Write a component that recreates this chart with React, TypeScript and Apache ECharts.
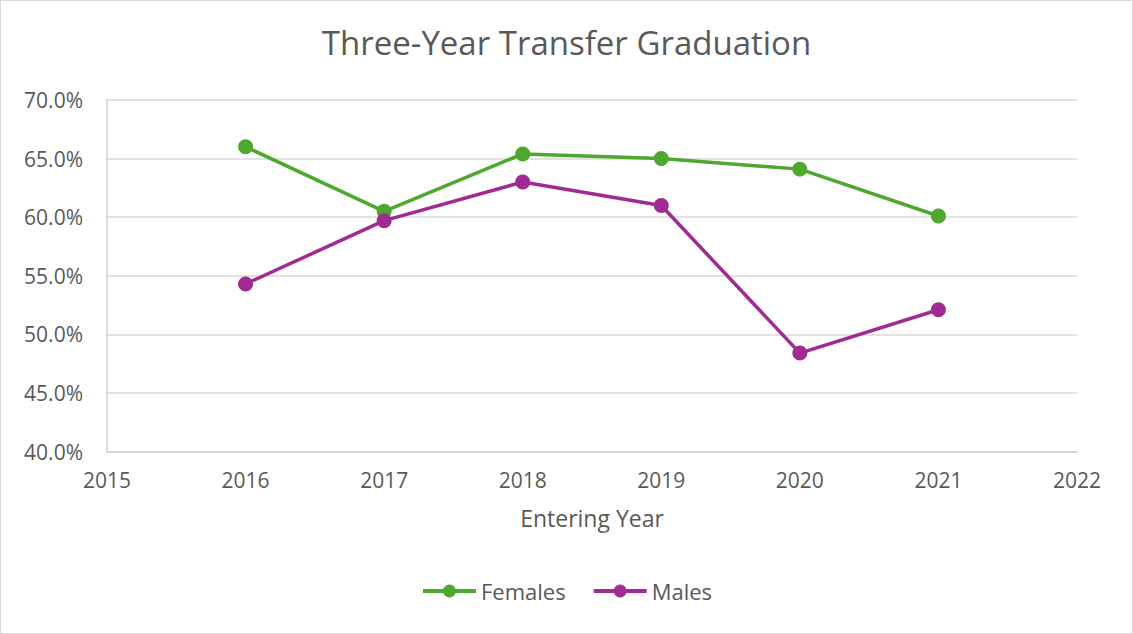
import React, { useEffect, useRef } from "react";
import * as echarts from "echarts";

const years = [2016, 2017, 2018, 2019, 2020, 2021];
const females = [66.0, 60.5, 65.4, 65.0, 64.1, 60.1];
const males = [54.3, 59.7, 63.0, 61.0, 48.4, 52.1];
const seriesNames = ["Females", "Males"];
const titleText = "Three-Year Transfer Graduation";
const xAxisName = "Entering Year";

const FONT = "'Open Sans', 'Liberation Sans', sans-serif";
const TEXT = "#595959";

export default function App() {
  const ref = useRef<HTMLDivElement>(null);
  useEffect(() => {
    if (!ref.current) return;
    const chart = echarts.init(ref.current, undefined, { renderer: "svg" });
    chart.setOption({
      animation: false,
      backgroundColor: "#ffffff",
      textStyle: { fontFamily: FONT, color: TEXT },
      title: {
        text: titleText,
        left: "center",
        top: 20,
        textStyle: { fontFamily: FONT, fontSize: 33, fontWeight: "normal", color: TEXT },
      },
      legend: {
        bottom: 26,
        left: "center",
        itemWidth: 53,
        itemHeight: 16,
        itemGap: 26,
        lineStyle: { width: 4 },
        textStyle: { fontFamily: FONT, fontSize: 22, color: TEXT },
        data: seriesNames,
      },
      grid: { left: 106, right: 55, top: 99, bottom: 181.5, containLabel: false },
      xAxis: {
        type: "value",
        min: 2015,
        max: 2022,
        interval: 1,
        name: xAxisName,
        nameLocation: "middle",
        nameGap: 55,
        nameTextStyle: { fontFamily: FONT, fontSize: 23, color: TEXT },
        axisLine: { show: true, lineStyle: { color: "#D0D0D0", width: 1.5 } },
        axisTick: { show: false },
        splitLine: { show: false },
        axisLabel: { margin: 18, fontSize: 21, color: TEXT, fontFamily: FONT, formatter: (v: number) => String(v) },
      },
      yAxis: {
        type: "value",
        min: 40,
        max: 70,
        interval: 5,
        axisLine: { show: true, lineStyle: { color: "#D0D0D0", width: 1.5 } },
        axisTick: { show: false },
        splitLine: { show: true, lineStyle: { color: "#D9D9D9", width: 1.5 } },
        axisLabel: { margin: 24, fontSize: 21, color: TEXT, fontFamily: FONT, formatter: (v: number) => v.toFixed(1) + "%" },
      },
      series: [
        {
          name: seriesNames[0],
          type: "line",
          data: years.map((y, i) => [y, females[i]]),
          symbol: "circle",
          symbolSize: 15,
          itemStyle: { color: "#4EA72E" },
          lineStyle: { color: "#4EA72E", width: 3.5 },
        },
        {
          name: seriesNames[1],
          type: "line",
          data: years.map((y, i) => [y, males[i]]),
          symbol: "circle",
          symbolSize: 15,
          itemStyle: { color: "#A02B93" },
          lineStyle: { color: "#A02B93", width: 3.5 },
        },
      ],
    });
    return () => chart.dispose();
  }, []);
  return (
    <div
      style={{
        position: "fixed",
        left: 0,
        top: 0,
        width: 1133,
        height: 634,
        boxSizing: "border-box",
        border: "1px solid #D9D9D9",
        background: "#fff",
      }}
    >
      <div ref={ref} style={{ width: "100%", height: "100%" }} />
    </div>
  );
}
